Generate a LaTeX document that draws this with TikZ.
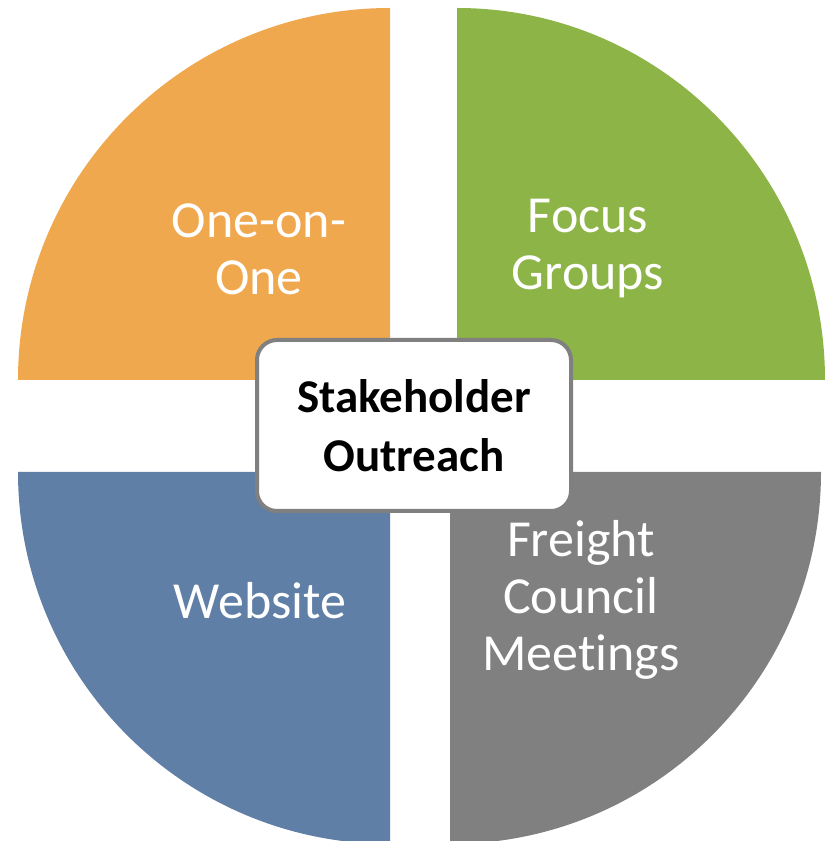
\documentclass[tikz,border=0pt]{standalone}
\usepackage{fontspec}
\setmainfont{Carlito}[Ligatures={NoCommon}]
\usepackage{tikz}

\definecolor{oneorange}{HTML}{F0A84E}
\definecolor{focusgreen}{HTML}{8DB446}
\definecolor{webblue}{HTML}{5F7FA7}
\definecolor{councilgray}{HTML}{808080}

\begin{document}
\begin{tikzpicture}[x=1pt,y=1pt,
    sectorlabel/.style={text=white,align=center,font=\fontsize{52}{57}\selectfont},
    hubbox/.style={draw=councilgray,line width=4pt,fill=white,rounded corners=20pt,
        minimum width=314pt,minimum height=171pt,align=center,
        font=\bfseries\fontsize{47}{59}\selectfont}]
    \useasboundingbox (0,0) rectangle (825,841);
    %% quarter sectors
    \fill[oneorange] (390,461) -- (18,461) arc (180:90:372) -- cycle;
    \fill[focusgreen] (457,461) -- (457,833) arc (90:0:368 and 372) -- cycle;
    \fill[webblue] (390,369) -- (18,369) arc (180:270:372) -- cycle;
    \fill[councilgray] (450,369) -- (450,-3) arc (270:360:371 and 372) -- cycle;
    %% labels
    \node[sectorlabel] (one) at (259,592) {One-on-\\One};
    \node[sectorlabel] (focus) at (588,592) {Focus\\Groups};
    \node[sectorlabel] (web) at (260,240) {Website};
    \node[sectorlabel] (freight) at (581,241) {Freight\\Council\\Meetings};
    % centre box
    \node[hubbox] (hub) at (414,415.5) {Stakeholder\\Outreach};
\end{tikzpicture}
\end{document}
